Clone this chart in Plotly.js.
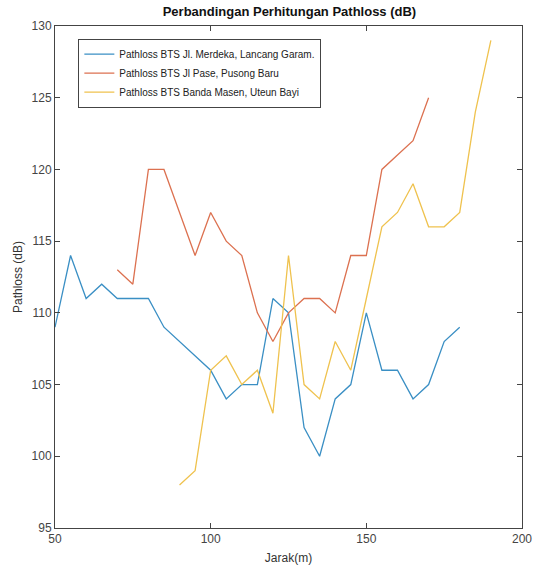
<!DOCTYPE html>
<html>
<head>
<meta charset="utf-8">
<script src="https://cdn.plot.ly/plotly-3.0.1.min.js"></script>
<style>html,body{margin:0;padding:0;background:#fff;}#chart{width:536px;height:578px;}</style>
</head>
<body>
<div id="chart"></div>
<script>
var seriesNames = [
  "Pathloss BTS Jl. Merdeka, Lancang Garam.",
  "Pathloss BTS Jl Pase, Pusong Baru",
  "Pathloss BTS Banda Masen, Uteun Bayi"
];
var xBlue = [50,55,60,65,70,75,80,85,90,95,100,105,110,115,120,125,130,135,140,145,150,155,160,165,170,175,180];
var yBlue = [109,114,111,112,111,111,111,109,108,107,106,104,105,105,111,110,102,100,104,105,110,106,106,104,105,108,109];
var xRed = [70,75,80,85,90,95,100,105,110,115,120,125,130,135,140,145,150,155,160,165,170];
var yRed = [113,112,120,120,117,114,117,115,114,110,108,110,111,111,110,114,114,120,121,122,125];
var xYellow = [90,95,100,105,110,115,120,125,130,135,140,145,150,155,160,165,170,175,180,185,190];
var yYellow = [98,99,106,107,105,106,103,114,105,104,108,106,111,116,117,119,116,116,117,124,129];
var colors = ["#3a8fc4", "#dc7150", "#efc24e"];

var xs = [xBlue, xRed, xYellow];
var ys = [yBlue, yRed, yYellow];
var traces = xs.map(function(x, i){
  return {x: x, y: ys[i], type: "scatter", mode: "lines", name: seriesNames[i],
          line: {color: colors[i], width: 1.3}};
});

var fam = "Liberation Sans, Arial, sans-serif";
var axisFont = {family: fam, size: 12, color: "#444"};
var layout = {
  width: 536, height: 578,
  margin: {l: 55, r: 14, t: 26, b: 50},
  paper_bgcolor: "#fff", plot_bgcolor: "#fff",
  title: {text: "<b>Perbandingan Perhitungan Pathloss (dB)</b>",
          font: {family: fam, size: 13, color: "#111"},
          x: 0.54, xanchor: "center", y: 0.988, yanchor: "top"},
  xaxis: {range: [50, 200], tickvals: [50,100,150,200], ticktext: ["50","100","150","200"],
          ticks: "inside", ticklen: 5, tickcolor: "#444", showline: true, linecolor: "#444",
          linewidth: 1, mirror: "allticks", showgrid: false, zeroline: false,
          tickfont: axisFont,
          title: {text: "Jarak(m)", font: {family: fam, size: 12, color: "#333"}, standoff: 8}},
  yaxis: {range: [95, 130], tickvals: [95,100,105,110,115,120,125,130],
          ticks: "inside", ticklen: 5, tickcolor: "#444", showline: true, linecolor: "#444",
          linewidth: 1, mirror: "allticks", showgrid: false, zeroline: false,
          tickfont: axisFont,
          title: {text: "Pathloss (dB)", font: {family: fam, size: 12, color: "#333"}, standoff: 6}},
  showlegend: true,
  legend: {x: 0.05, y: 0.975, xanchor: "left", yanchor: "top",
           bgcolor: "#fff", bordercolor: "#444", borderwidth: 1,
           font: {family: fam, size: 10, color: "#222"},
           tracegroupgap: 0, itemwidth: 30}
};
Plotly.newPlot("chart", traces, layout, {staticPlot: true, displayModeBar: false});
</script>
</body>
</html>
